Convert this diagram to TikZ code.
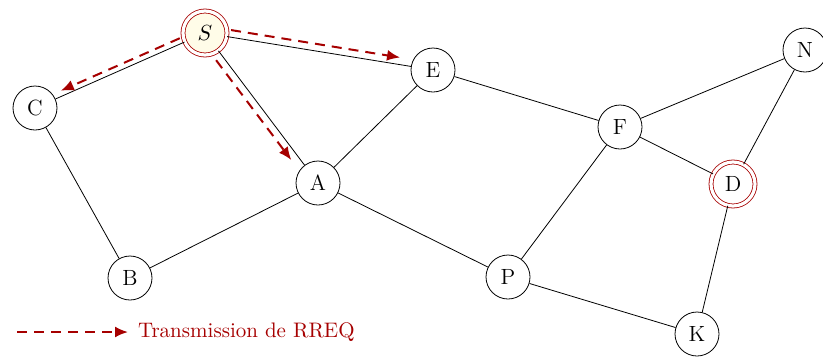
\documentclass[tikz,border=0pt]{standalone}
\usetikzlibrary{arrows.meta}

\definecolor{rreqred}{RGB}{166,0,0}
\definecolor{srcfill}{RGB}{255,252,232}

\tikzset{
    station/.style={circle, draw, thin, minimum size=22pt, inner sep=0pt, fill=white,
        font=\fontsize{11}{13}\selectfont},
    endpoint/.style={station, draw=rreqred, double=white, double distance=1.6pt},
    rreq/.style={rreqred, line width=1pt, dash pattern=on 5pt off 3.5pt, -{Latex[length=6.5pt,width=5.5pt]}},
}

\begin{document}
\begin{tikzpicture}[x=0.5pt, y=-0.5pt]

        \useasboundingbox (0,0) rectangle (823,359);  % picture frame

        % Stations
        \node[endpoint, fill=srcfill] (S) at (205,33) {$S$};
        \node[station] (C) at (35,108) {C};
        \node[station] (E) at (433,70) {E};
        \node[station] (A) at (318,183) {A};
        \node[station] (B) at (130,278) {B};
        \node[station] (P) at (508,277) {P};
        \node[station] (F) at (620,127) {F};
        \node[station] (N) at (805,50) {N};
        \node[endpoint] (D) at (733,184) {D};
        \node[station] (K) at (697,334) {K};

        % Links
        \draw[thin] (S) -- (C);
        \draw[thin] (C) -- (B);
        \draw[thin] (B) -- (A);
        \draw[thin] (S) -- (A);
        \draw[thin] (S) -- (E);
        \draw[thin] (A) -- (E);
        \draw[thin] (A) -- (P);
        \draw[thin] (E) -- (F);
        \draw[thin] (F) -- (N);
        \draw[thin] (N) -- (D);
        \draw[thin] (F) -- (D);
        \draw[thin] (F) -- (P);
        \draw[thin] (P) -- (K);
        \draw[thin] (K) -- (D);

        % RREQ broadcast from the source
        \draw[rreq, shorten <=1.5pt, shorten >=4pt, transform canvas={shift={(-2,-5)}}] (S) -- (C);
        \draw[rreq, shorten <=1.5pt, shorten >=6pt, transform canvas={shift={(1,-7)}}] (S) -- (E);
        \draw[rreq, shorten <=3pt, shorten >=6pt, transform canvas={shift={(-6,4.5)}}] (S) -- (A);

        % Legend
        \coordinate (legA) at (17,332);
        \coordinate (legB) at (128,332);
        \draw[rreq] (legA) -- (legB);
        \node[anchor=west, text=rreqred, font=\fontsize{10.5}{13}\selectfont] (legtxt) at (131,332) {Transmission de RREQ};

\end{tikzpicture}
\end{document}
